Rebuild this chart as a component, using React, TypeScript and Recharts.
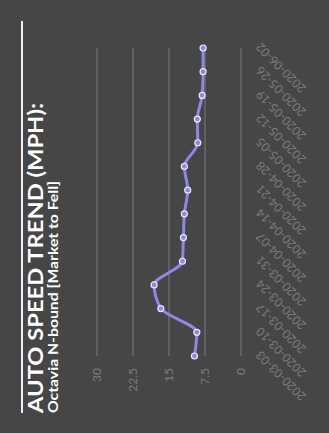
import React from 'react';
import { LineChart, Line, XAxis, YAxis, CartesianGrid } from 'recharts';

const weeks = [
  '2020-03-03', '2020-03-10', '2020-03-17', '2020-03-24', '2020-03-31',
  '2020-04-07', '2020-04-14', '2020-04-21', '2020-04-28', '2020-05-05',
  '2020-05-12', '2020-05-19', '2020-05-26', '2020-06-02',
];
const speeds = [9.7, 9.2, 16.7, 18.1, 12.2, 12.0, 11.8, 11.1, 11.8, 9.0, 9.1, 8.1, 7.9, 7.9];
const yTicks = [0, 7.5, 15, 22.5, 30];

const chartData = weeks.map((week, i) => ({ week, speed: speeds[i] }));

// chart is laid out flat (433 x 329) and then turned a quarter turn to the left
const W = 433;
const H = 329;
const FONT = 'Lato, "Open Sans", sans-serif';

const App: React.FC = () => {
  return (
    <div style={{ position: 'fixed', top: 0, left: 0, width: H, height: W, background: '#464646', overflow: 'hidden' }}>
      <div
        style={{
          position: 'absolute',
          left: 0,
          top: 0,
          width: W,
          height: H,
          transform: `translate(0px, ${W}px) rotate(-90deg)`,
          transformOrigin: '0 0',
          fontFamily: FONT,
        }}
      >
        <svg width={W} height={70} style={{ position: 'absolute', left: 0, top: 0 }}>
          <rect x={20} y={21} width={392} height={2} fill="#f2f2f2" />
          <text x={20} y={43} fill="#ffffff" fontSize={20} fontWeight={700} fontFamily={FONT}
            textLength={310} lengthAdjust="spacingAndGlyphs">
            AUTO SPEED TREND (MPH):
          </text>
          <text x={20} y={58} fill="#ffffff" fontSize={14} fontWeight={700} fontFamily={FONT}
            textLength={232} lengthAdjust="spacingAndGlyphs">
            Octavia N-bound [Market to Fell]
          </text>
        </svg>
        <div style={{ position: 'absolute', left: 0, top: 0 }}>
          <LineChart width={W} height={H} data={chartData} margin={{ top: 97, right: 48, bottom: 0, left: 0 }}>
            <CartesianGrid vertical={false} stroke="#6a6a6a" strokeWidth={1.5} />
            <XAxis
              dataKey="week"
              height={88}
              interval={0}
              angle={-45}
              textAnchor="end"
              axisLine={false}
              tickLine={false}
              tickMargin={8}
              tick={{ fill: '#7c7c7c', fontSize: 12, fontFamily: FONT }}
            />
            <YAxis
              width={77}
              domain={[0, 30]}
              ticks={yTicks}
              axisLine={false}
              tickLine={false}
              tickMargin={6}
              tick={{ fill: '#7c7c7c', fontSize: 12, fontFamily: FONT }}
            />
            <Line
              type="monotone"
              dataKey="speed"
              stroke="#8c88e6"
              strokeWidth={3}
              dot={{ r: 3, fill: '#8c88e6', stroke: '#ece9ff', strokeWidth: 1.2 }}
              isAnimationActive={false}
            />
          </LineChart>
        </div>
      </div>
    </div>
  );
};

export default App;
